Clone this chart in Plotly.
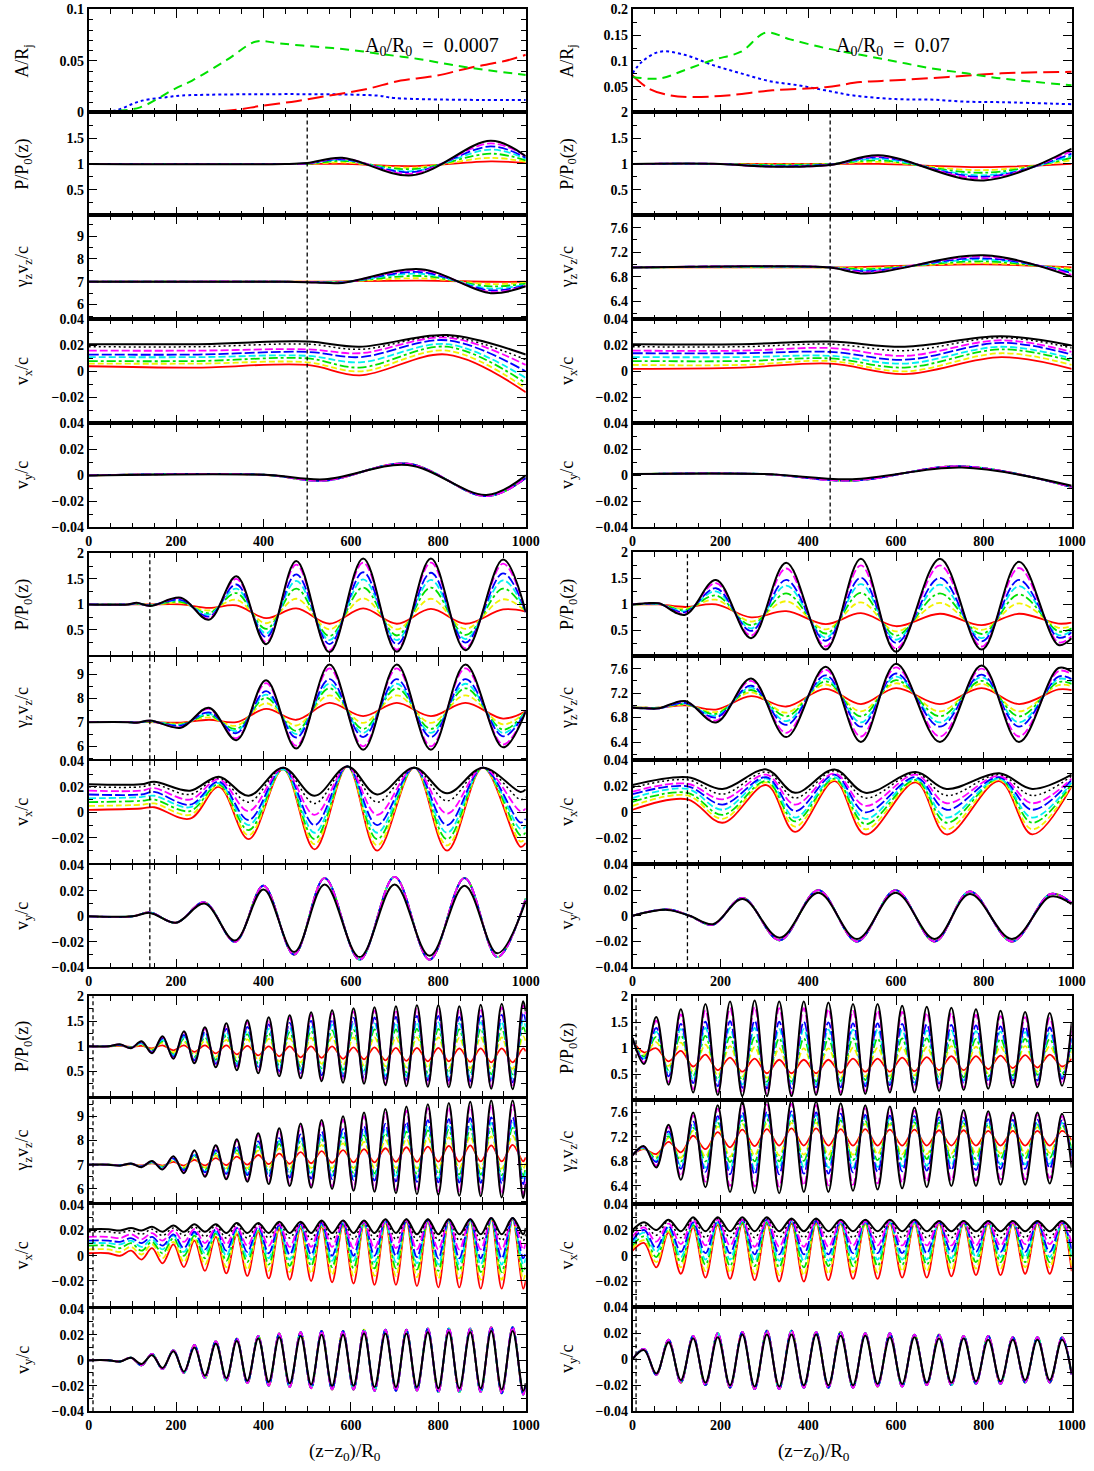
import plotly.graph_objects as go

W, H = 1094, 1471

# ---------------- DATA ----------------
# ---- top row: amplitude panels ----
TL_A_green_x = [0, 62, 118, 197, 237, 316, 384, 436, 515, 595, 674, 754, 833, 913, 1000]
TL_A_green_y = [0, 0.0015, 0.005, 0.023, 0.031, 0.051, 0.069, 0.067, 0.064, 0.061, 0.0565, 0.052, 0.046, 0.041, 0.0365]
TL_A_blue_x = [0, 62, 118, 181, 213, 658, 700, 1000]
TL_A_blue_y = [0, 0.002, 0.011, 0.015, 0.0165, 0.0165, 0.014, 0.012]
TL_A_red_x = [0, 316, 396, 475, 555, 634, 714, 793, 873, 952, 1000]
TL_A_red_y = [0, 0.0016, 0.0065, 0.011, 0.0168, 0.0226, 0.031, 0.0355, 0.0435, 0.05, 0.056]

TR_A_green_x = [0, 62, 118, 183, 247, 303, 359, 439, 519, 599, 679, 760, 840, 920, 1000]
TR_A_green_y = [0.069, 0.066, 0.082, 0.102, 0.118, 0.155, 0.142, 0.125, 0.112, 0.099, 0.086, 0.076, 0.066, 0.059, 0.053]
TR_A_blue_x = [0, 22, 62, 118, 183, 247, 311, 375, 439, 503, 599, 679, 760, 840, 1000]
TR_A_blue_y = [0.076, 0.099, 0.118, 0.112, 0.092, 0.076, 0.061, 0.053, 0.043, 0.033, 0.026, 0.025, 0.021, 0.020, 0.016]
TR_A_red_x = [0, 38, 87, 135, 215, 319, 439, 519, 599, 719, 840, 1000]
TR_A_red_y = [0.072, 0.046, 0.033, 0.030, 0.033, 0.043, 0.049, 0.059, 0.0625, 0.069, 0.076, 0.079]

# ---- top group, left (A0/R0 = 0.0007) ----
TL_P_X = [0, 450, 500, 580, 740, 920, 1000]
TL_P = dict(
    r=[1, 1, 1.0, 1.0, 0.96, 1.05, 1.02],
    y=[1, 1, 1.0, 1.03, 0.93, 1.12, 1.04],
    g=[1, 1, 1.0, 1.06, 0.90, 1.20, 1.07],
    c=[1, 1, 1.01, 1.08, 0.86, 1.28, 1.10],
    b=[1, 1, 1.01, 1.09, 0.84, 1.34, 1.12],
    m=[1, 1, 1.01, 1.11, 0.81, 1.40, 1.15],
    k=[1, 1, 1.02, 1.12, 0.78, 1.45, 1.15],
)
TL_G_X = [0, 450, 520, 580, 760, 920, 1000]
TL_G = dict(
    r=[7, 7, 7, 7.02, 7.05, 7.0, 7.0],
    y=[7, 7, 7, 7.0, 7.15, 6.9, 6.96],
    g=[7, 7, 6.99, 6.99, 7.25, 6.8, 6.92],
    c=[7, 7, 6.98, 6.98, 7.35, 6.7, 6.88],
    b=[7, 7, 6.98, 6.97, 7.42, 6.62, 6.85],
    m=[7, 7, 6.97, 6.96, 7.5, 6.55, 6.82],
    k=[7, 7, 6.97, 6.95, 7.55, 6.5, 6.8],
)
TL_VX_X = [0, 250, 500, 620, 820, 1000]
TL_VX = dict(
    r=[.004, .003, .005, -.003, .013, -.016],
    y=[.006, .006, .007, .000, .016, -.013],
    g=[.008, .008, .010, .003, .019, -.009],
    c=[.011, .011, .012, .007, .021, -.005],
    b=[.013, .013, .015, .011, .024, .000],
    m=[.016, .016, .017, .014, .026, .005],
    d=[.019, .019, .021, .017, .027, .009],
    k=[.021, .021, .023, .019, .028, .013],
)
TL_VY_X = [0, 400, 540, 730, 910, 1000]
TL_VY_k = [0, .0005, -.003, .008, -.015, 0]
TL_VY_col = [0, .0005, -.004, .009, -.016, -.002]

# ---- top group, right (A0/R0 = 0.07) ----
TR_P_X = [0, 200, 300, 450, 560, 800, 1000]
TR_P = dict(
    r=[1, 1, 1.0, 1.0, 1.0, 0.94, 1.0],
    y=[1, 1, 0.99, 1.0, 1.04, 0.88, 1.07],
    g=[1, 1, 0.98, 1.0, 1.07, 0.83, 1.12],
    c=[1, 1, 0.97, 0.99, 1.10, 0.78, 1.16],
    b=[1, 1, 0.96, 0.99, 1.13, 0.75, 1.20],
    m=[1, 1, 0.95, 0.98, 1.15, 0.72, 1.25],
    k=[1, 1, 0.95, 0.98, 1.17, 0.68, 1.30],
)
TR_G_X = [0, 300, 450, 530, 800, 1000]
TR_G = dict(
    r=[6.95, 6.95, 6.95, 6.96, 7.0, 6.95],
    y=[6.95, 6.95, 6.95, 6.94, 7.02, 6.93],
    g=[6.95, 6.96, 6.95, 6.92, 7.05, 6.9],
    c=[6.95, 6.96, 6.95, 6.9, 7.08, 6.88],
    b=[6.95, 6.97, 6.95, 6.89, 7.1, 6.86],
    m=[6.95, 6.97, 6.95, 6.87, 7.13, 6.83],
    k=[6.95, 6.97, 6.95, 6.85, 7.15, 6.8],
)
TR_VX_X = [0, 250, 450, 620, 840, 1000]
TR_VX = dict(
    r=[.002, .003, .006, -.002, .011, .002],
    y=[.005, .005, .008, .000, .014, .005],
    g=[.008, .008, .010, .003, .017, .008],
    c=[.011, .011, .012, .006, .019, .010],
    b=[.014, .014, .015, .009, .022, .013],
    m=[.016, .016, .018, .012, .024, .015],
    d=[.019, .019, .021, .016, .026, .018],
    k=[.021, .021, .023, .019, .027, .020],
)
TR_VY_X = [0, 300, 500, 750, 1000]
TR_VY_k = [.001, .001, -.003, .006, -.008]
TR_VY_col = [.001, .001, -.004, .007, -.009]

# ---- middle group, left ----
ML_X = [0, 90, 110, 141, 211, 275, 338, 406, 475, 551, 628, 705, 783, 862, 948, 1000]
ML_P = dict(
    r=[1, 1, 1.0, 1.0, 1.0, .93, .98, .73, .92, .62, .92, .62, .91, .62, .9, .86],
    y=[1, 1, 1.01, .99, 1.03, .88, 1.09, .63, 1.11, .51, 1.12, .51, 1.11, .52, 1.1, .86],
    g=[1, 1, 1.01, .99, 1.05, .83, 1.22, .52, 1.31, .38, 1.33, .39, 1.33, .4, 1.31, .86],
    c=[1, 1, 1.02, .98, 1.08, .8, 1.31, .43, 1.46, .3, 1.49, .3, 1.48, .32, 1.47, .85],
    b=[1, 1, 1.02, .98, 1.09, .76, 1.39, .36, 1.59, .22, 1.63, .22, 1.62, .25, 1.61, .85],
    m=[1, 1, 1.03, .97, 1.12, .72, 1.5, .26, 1.78, .1, 1.82, .11, 1.82, .14, 1.8, .85],
    k=[1, 1, 1.03, .97, 1.13, .7, 1.55, .22, 1.85, .06, 1.9, .07, 1.9, .1, 1.88, .85],
)
ML_G = dict(
    r=[7, 7, 7.0, 7.0, 6.98, 7.1, 7.0, 7.55, 7.1, 7.8, 7.25, 7.8, 7.25, 7.8, 7.15, 7.45],
    y=[7, 7, 6.99, 7.01, 6.94, 7.2, 6.85, 7.79, 6.86, 8.12, 6.97, 8.12, 6.97, 8.12, 6.91, 7.45],
    g=[7, 7, 6.99, 7.03, 6.9, 7.29, 6.72, 8.01, 6.64, 8.41, 6.72, 8.41, 6.72, 8.41, 6.69, 7.45],
    c=[7, 7, 6.99, 7.04, 6.88, 7.35, 6.63, 8.15, 6.5, 8.6, 6.55, 8.6, 6.55, 8.6, 6.55, 7.45],
    b=[7, 7, 6.99, 7.04, 6.85, 7.41, 6.54, 8.29, 6.36, 8.79, 6.38, 8.79, 6.38, 8.79, 6.41, 7.45],
    m=[7, 7, 6.98, 7.06, 6.79, 7.55, 6.33, 8.63, 6.02, 9.24, 5.99, 9.24, 5.99, 9.24, 6.07, 7.45],
    k=[7, 7, 6.98, 7.07, 6.77, 7.6, 6.25, 8.75, 5.9, 9.4, 5.85, 9.4, 5.85, 9.4, 5.95, 7.45],
)
ML_VX_X = [0, 120, 150, 232, 298, 366, 445, 517, 592, 660, 745, 820, 902, 988, 1000]
ML_VX = dict(
    r=[.002, .003, .004, -.005, .020, -.021, .034, -.029, .036, -.030, .035, -.030, .035, -.027, -.024],
    y=[.005, .006, .007, -.002, .021, -.018, .034, -.025, .036, -.026, .035, -.026, .035, -.023, -.020],
    g=[.008, .009, .010, .001, .022, -.014, .034, -.021, .036, -.021, .035, -.021, .035, -.018, -.016],
    c=[.011, .012, .013, .004, .023, -.010, .034, -.016, .036, -.016, .035, -.016, .035, -.013, -.011],
    b=[.014, .014, .016, .006, .024, -.006, .035, -.010, .036, -.010, .035, -.010, .035, -.008, -.005],
    m=[.017, .017, .019, .010, .026, .001, .035, -.002, .036, -.002, .035, -.001, .035, .001, .003],
    d=[.020, .020, .022, .014, .027, .008, .035, .007, .036, .008, .035, .009, .035, .010, .012],
    k=[.022, .022, .024, .017, .028, .013, .035, .013, .036, .014, .035, .015, .035, .016, .018],
)
ML_VY_X = [0, 100, 140, 200, 265, 335, 400, 470, 540, 620, 700, 780, 860, 935, 1000]
ML_VY_k = [0, 0, .0027, -.005, .010, -.019, .021, -.028, .025, -.032, .025, -.031, .024, -.029, .012]
ML_VY_col = [0, 0, .003, -.005, .011, -.020, .024, -.030, .030, -.034, .031, -.034, .030, -.032, .014]

# ---- middle group, right ----
MR_X = [0, 30, 60, 120, 190, 270, 350, 440, 520, 600, 700, 795, 880, 970, 1000]
MR_P = dict(
    r=[1, 1, 1, .95, 1.0, .75, .87, .62, .83, .58, .82, .6, .82, .63, .65],
    y=[1, 1.0, 1.0, .92, 1.09, .67, 1.06, .52, 1.04, .48, 1.03, .51, 1.02, .55, .59],
    g=[1, 1.01, 1.01, .89, 1.17, .6, 1.21, .44, 1.22, .4, 1.21, .43, 1.19, .48, .54],
    c=[1, 1.01, 1.01, .87, 1.25, .54, 1.36, .36, 1.39, .32, 1.38, .35, 1.35, .41, .49],
    b=[1, 1.01, 1.01, .85, 1.31, .49, 1.47, .3, 1.51, .26, 1.51, .29, 1.47, .36, .46],
    m=[1, 1.02, 1.02, .82, 1.41, .4, 1.69, .19, 1.75, .15, 1.75, .19, 1.7, .27, .39],
    k=[1, 1.02, 1.02, .8, 1.47, .35, 1.8, .13, 1.88, .09, 1.88, .13, 1.82, .22, .35],
)
MR_G = dict(
    r=[6.96, 6.96, 6.96, 7.0, 6.93, 7.15, 6.98, 7.27, 7.02, 7.28, 7.02, 7.28, 7.02, 7.26, 7.25],
    y=[6.96, 6.96, 6.96, 7.01, 6.89, 7.21, 6.88, 7.34, 6.9, 7.36, 6.9, 7.35, 6.9, 7.33, 7.31],
    g=[6.96, 6.96, 6.96, 7.02, 6.86, 7.25, 6.82, 7.39, 6.82, 7.41, 6.82, 7.4, 6.82, 7.38, 7.35],
    c=[6.96, 6.95, 6.95, 7.03, 6.83, 7.29, 6.74, 7.44, 6.72, 7.47, 6.72, 7.46, 6.72, 7.43, 7.39],
    b=[6.96, 6.95, 6.95, 7.04, 6.8, 7.32, 6.68, 7.49, 6.65, 7.52, 6.65, 7.5, 6.65, 7.47, 7.43],
    m=[6.96, 6.95, 6.95, 7.06, 6.75, 7.4, 6.55, 7.58, 6.49, 7.62, 6.49, 7.6, 6.49, 7.56, 7.51],
    k=[6.96, 6.95, 6.95, 7.07, 6.72, 7.44, 6.48, 7.63, 6.4, 7.68, 6.4, 7.65, 6.4, 7.61, 7.55],
)
MR_VX_X = [0, 125, 205, 305, 370, 460, 530, 645, 715, 835, 910, 1000]
MR_VX = dict(
    r=[.002, .010, -.008, .021, -.015, .024, -.017, .023, -.017, .024, -.017, .020],
    y=[.005, .013, -.005, .023, -.011, .025, -.013, .024, -.013, .025, -.013, .021],
    g=[.008, .015, -.002, .024, -.007, .026, -.009, .025, -.008, .026, -.008, .022],
    c=[.011, .018, .002, .026, -.004, .027, -.005, .026, -.004, .026, -.004, .023],
    b=[.014, .020, .006, .027, .001, .029, .000, .027, .002, .027, .002, .025],
    m=[.016, .022, .010, .029, .006, .030, .005, .029, .007, .028, .007, .026],
    d=[.019, .025, .014, .031, .011, .032, .011, .030, .013, .029, .013, .028],
    k=[.021, .027, .018, .033, .015, .033, .015, .031, .018, .030, .018, .029],
)
MR_VY_X = [0, 79, 130, 183, 251, 335, 423, 511, 599, 688, 768, 864, 952, 1000]
MR_VY_k = [0, .0046, 0, -.0065, .013, -.017, .018, -.018, .018, -.018, .017, -.018, .015, .009]
MR_VY_col = [0, .005, 0, -.007, .014, -.019, .020, -.020, .020, -.020, .019, -.020, .017, .010]

# ---- bottom group, left ----
BL_X = [0, 45, 72, 97, 121, 145, 169, 194, 218, 242, 266, 291, 315, 339, 363, 388, 412, 436, 460, 485, 509,
        533, 557, 582, 606, 630, 654, 679, 703, 727, 751, 776, 800, 824, 848, 873, 897, 921, 945, 970, 994, 1000]
BL_P = dict(
    r=[1, 1, 1.01, .99, 1.01, .96, 1.02, .92, 1.02, .89, 1.02, .86, 1.02, .84, 1.01, .82, 1.0, .80, 1.0, .78, 1.0,
       .77, 1.0, .75, .98, .74, .98, .72, .97, .71, .97, .70, .97, .70, .96, .69, .96, .68, .96, .68, .96, .9],
    y=[1, 1, 1.02, .98, 1.03, .94, 1.07, .88, 1.09, .83, 1.11, .79, 1.13, .76, 1.14, .73, 1.15, .70, 1.16, .68, 1.17,
       .65, 1.18, .63, 1.18, .62, 1.18, .60, 1.18, .58, 1.18, .57, 1.18, .57, 1.17, .56, 1.18, .55, 1.18, .55, 1.2, 1.1],
    g=[1, 1, 1.02, .98, 1.05, .92, 1.10, .84, 1.15, .79, 1.18, .73, 1.22, .70, 1.24, .66, 1.26, .62, 1.28, .59, 1.31,
       .56, 1.32, .53, 1.33, .52, 1.34, .50, 1.34, .48, 1.35, .47, 1.35, .47, 1.34, .46, 1.35, .44, 1.36, .44, 1.38, 1.26],
    c=[1, 1, 1.03, .97, 1.06, .90, 1.13, .82, 1.19, .75, 1.24, .69, 1.28, .65, 1.32, .60, 1.35, .56, 1.37, .53, 1.41,
       .49, 1.43, .46, 1.45, .45, 1.46, .42, 1.47, .40, 1.48, .39, 1.48, .39, 1.46, .38, 1.48, .36, 1.49, .36, 1.52, 1.38],
    b=[1, 1, 1.03, .97, 1.08, .89, 1.16, .79, 1.23, .72, 1.29, .65, 1.35, .60, 1.39, .55, 1.44, .50, 1.47, .47, 1.51,
       .42, 1.54, .39, 1.57, .37, 1.58, .35, 1.59, .33, 1.61, .32, 1.61, .31, 1.59, .30, 1.61, .28, 1.63, .28, 1.67, 1.5],
    m=[1, 1, 1.04, .96, 1.09, .87, 1.19, .76, 1.28, .68, 1.35, .60, 1.42, .55, 1.48, .49, 1.53, .43, 1.57, .39, 1.63,
       .34, 1.66, .31, 1.70, .29, 1.72, .26, 1.73, .24, 1.75, .23, 1.75, .22, 1.73, .21, 1.76, .19, 1.78, .18, 1.82, 1.64],
    k=[1, 1, 1.04, .96, 1.1, .86, 1.2, .75, 1.3, .66, 1.38, .58, 1.46, .52, 1.52, .46, 1.58, .40, 1.62, .36, 1.68,
       .30, 1.72, .27, 1.76, .25, 1.78, .22, 1.8, .20, 1.82, .19, 1.82, .18, 1.8, .17, 1.83, .15, 1.85, .14, 1.9, 1.7],
)
BL_G = dict(
    r=[7, 7, 6.99, 7.02, 6.97, 7.06, 6.96, 7.12, 6.96, 7.2, 6.97, 7.27, 6.98, 7.33, 7.0, 7.4, 7.02, 7.46, 7.04, 7.52, 7.06,
       7.56, 7.08, 7.6, 7.1, 7.64, 7.1, 7.68, 7.12, 7.72, 7.12, 7.75, 7.13, 7.78, 7.13, 7.8, 7.14, 7.8, 7.14, 7.82, 7.14, 7.3],
    y=[7, 7, 6.98, 7.03, 6.96, 7.08, 6.93, 7.17, 6.9, 7.28, 6.88, 7.38, 6.86, 7.47, 6.86, 7.58, 6.86, 7.67, 6.86, 7.76, 6.86,
       7.82, 6.86, 7.88, 6.86, 7.94, 6.86, 8.0, 6.86, 8.06, 6.85, 8.1, 6.85, 8.13, 6.85, 8.16, 6.85, 8.17, 6.84, 8.19, 6.84, 7.08],
    g=[7, 7, 6.98, 7.03, 6.94, 7.09, 6.9, 7.21, 6.84, 7.35, 6.79, 7.47, 6.76, 7.6, 6.73, 7.74, 6.71, 7.86, 6.69, 7.97, 6.68,
       8.05, 6.67, 8.13, 6.65, 8.21, 6.64, 8.3, 6.63, 8.36, 6.61, 8.42, 6.61, 8.45, 6.6, 8.48, 6.59, 8.5, 6.57, 8.52, 6.56, 6.88],
    c=[7, 7, 6.97, 7.04, 6.93, 7.1, 6.88, 7.23, 6.8, 7.4, 6.73, 7.53, 6.69, 7.69, 6.65, 7.85, 6.61, 7.98, 6.58, 8.11, 6.56,
       8.2, 6.54, 8.3, 6.51, 8.4, 6.49, 8.49, 6.47, 8.56, 6.45, 8.63, 6.44, 8.67, 6.43, 8.7, 6.42, 8.73, 6.4, 8.74, 6.38, 6.75],
    b=[7, 7, 6.97, 7.04, 6.93, 7.12, 6.86, 7.26, 6.77, 7.45, 6.68, 7.6, 6.62, 7.78, 6.57, 7.96, 6.51, 8.1, 6.47, 8.25, 6.43,
       8.36, 6.41, 8.47, 6.37, 8.58, 6.34, 8.68, 6.31, 8.76, 6.29, 8.84, 6.27, 8.88, 6.26, 8.92, 6.25, 8.95, 6.22, 8.95, 6.2, 6.62],
    m=[7, 7, 6.96, 7.05, 6.91, 7.14, 6.82, 7.33, 6.68, 7.56, 6.55, 7.75, 6.46, 7.98, 6.37, 8.21, 6.28, 8.4, 6.21, 8.58, 6.15,
       8.72, 6.11, 8.86, 6.04, 9.0, 6.0, 9.14, 5.95, 9.23, 5.91, 9.33, 5.89, 9.37, 5.86, 9.42, 5.84, 9.47, 5.8, 9.47, 5.77, 6.3],
    k=[7, 7, 6.96, 7.05, 6.9, 7.15, 6.8, 7.35, 6.65, 7.6, 6.5, 7.8, 6.4, 8.05, 6.3, 8.3, 6.2, 8.5, 6.12, 8.7, 6.05,
       8.85, 6.0, 9.0, 5.92, 9.15, 5.88, 9.3, 5.82, 9.4, 5.78, 9.5, 5.75, 9.55, 5.72, 9.6, 5.7, 9.65, 5.65, 9.65, 5.62, 6.2],
)
BL_VX = dict(
    r=[.002, .002, .000, .004, -.003, .006, -.006, .009, -.009, .012, -.012, .015, -.014, .017, -.016, .019, -.018, .021, -.019, .022, -.020,
       .023, -.021, .024, -.022, .025, -.023, .026, -.023, .027, -.024, .027, -.025, .028, -.025, .028, -.026, .029, -.026, .029, -.026, -.020],
    y=[.005, .005, .003, .007, .001, .009, -.002, .011, -.005, .014, -.007, .017, -.009, .018, -.011, .020, -.012, .022, -.013, .023, -.014,
       .024, -.015, .025, -.016, .025, -.016, .026, -.016, .027, -.017, .027, -.018, .028, -.018, .028, -.019, .029, -.019, .029, -.019, -.013],
    g=[.008, .008, .006, .010, .004, .011, .002, .014, .000, .016, -.002, .018, -.004, .020, -.005, .021, -.007, .023, -.008, .024, -.008,
       .025, -.009, .025, -.010, .026, -.010, .027, -.010, .028, -.011, .028, -.012, .028, -.012, .028, -.013, .029, -.013, .029, -.013, -.007],
    c=[.010, .010, .009, .012, .007, .013, .005, .016, .003, .018, .002, .019, .000, .021, -.001, .022, -.002, .024, -.003, .024, -.003,
       .025, -.004, .026, -.004, .026, -.005, .027, -.005, .028, -.006, .028, -.007, .028, -.007, .028, -.007, .029, -.007, .029, -.007, -.002],
    b=[.012, .012, .011, .014, .010, .015, .008, .017, .006, .019, .005, .021, .004, .022, .003, .023, .002, .024, .001, .025, .001,
       .026, .000, .026, .000, .027, .000, .028, .000, .028, -.001, .028, -.002, .029, -.002, .029, -.002, .030, -.002, .030, -.002, .003],
    m=[.015, .015, .014, .017, .013, .018, .012, .020, .011, .021, .010, .022, .009, .023, .008, .024, .008, .025, .007, .026, .007,
       .027, .007, .027, .006, .027, .006, .028, .006, .028, .005, .028, .005, .029, .005, .029, .005, .030, .005, .030, .005, .010],
    d=[.019, .019, .018, .020, .017, .021, .016, .022, .016, .023, .015, .024, .014, .025, .014, .025, .014, .026, .014, .026, .013,
       .027, .013, .028, .013, .028, .013, .029, .013, .029, .012, .029, .012, .029, .012, .029, .012, .030, .012, .030, .012, .017],
    k=[.021, .021, .020, .022, .020, .023, .019, .024, .019, .025, .019, .025, .018, .026, .018, .026, .018, .027, .018, .027, .018,
       .028, .018, .028, .018, .028, .018, .029, .018, .029, .017, .029, .017, .029, .017, .029, .017, .030, .017, .030, .017, .022],
)
BL_VY_k = [0, 0, -.001, .002, -.003, .004, -.006, .007, -.009, .010, -.012, .013, -.014, .015, -.016, .017, -.017, .018, -.018, .019, -.019,
           .020, -.020, .020, -.020, .021, -.021, .021, -.021, .021, -.021, .022, -.022, .022, -.022, .022, -.022, .023, -.023, .023, -.024, -.018]
BL_VY_col = [0, 0, -.001, .002, -.004, .005, -.007, .008, -.010, .012, -.014, .015, -.016, .017, -.018, .019, -.020, .021, -.021, .022, -.022,
             .023, -.023, .023, -.023, .024, -.024, .024, -.024, .024, -.024, .025, -.025, .025, -.025, .025, -.025, .026, -.026, .026, -.027, -.020]

# ---- bottom group, right ----
BR_X = [0, 26, 54, 82, 110, 138, 166, 194, 222, 250, 278, 306, 334, 362, 390, 418, 446, 474, 502,
        530, 558, 586, 614, 642, 670, 698, 726, 754, 782, 810, 838, 866, 894, 922, 950, 978, 1000]
BR_P = dict(
    r=[1.15, .92, 1.0, .75, .95, .65, .88, .58, .82, .55, .8, .52, .78, .52, .78, .52, .78, .53, .8,
       .55, .8, .55, .82, .56, .83, .58, .85, .58, .85, .6, .86, .62, .87, .63, .88, .65, .8],
    y=[1.16, .88, 1.12, .66, 1.11, .55, 1.07, .48, 1.04, .46, 1.02, .43, 1.0, .43, 1.0, .44, 1.0, .44, 1.01,
       .46, 1.01, .47, 1.02, .48, 1.02, .5, 1.04, .5, 1.03, .52, 1.03, .55, 1.04, .55, 1.04, .58, .94],
    g=[1.17, .84, 1.22, .58, 1.25, .47, 1.24, .4, 1.22, .38, 1.21, .36, 1.19, .36, 1.19, .36, 1.19, .37, 1.19,
       .39, 1.19, .4, 1.19, .41, 1.19, .43, 1.19, .44, 1.18, .46, 1.18, .48, 1.18, .49, 1.18, .51, 1.06],
    c=[1.18, .8, 1.32, .51, 1.37, .39, 1.39, .33, 1.39, .3, 1.39, .29, 1.37, .29, 1.37, .3, 1.36, .3, 1.36,
       .32, 1.36, .34, 1.35, .34, 1.34, .37, 1.34, .38, 1.33, .4, 1.32, .42, 1.31, .43, 1.3, .45, 1.17],
    b=[1.18, .78, 1.39, .46, 1.47, .33, 1.51, .27, 1.52, .24, 1.53, .23, 1.51, .23, 1.51, .25, 1.5, .25, 1.48,
       .27, 1.48, .29, 1.47, .29, 1.46, .32, 1.45, .33, 1.44, .35, 1.42, .38, 1.41, .38, 1.4, .41, 1.26],
    m=[1.19, .73, 1.53, .35, 1.65, .21, 1.73, .16, 1.77, .14, 1.79, .13, 1.77, .13, 1.77, .15, 1.75, .15, 1.72,
       .17, 1.72, .2, 1.7, .2, 1.68, .23, 1.67, .25, 1.64, .27, 1.62, .29, 1.6, .3, 1.58, .32, 1.42],
    k=[1.2, .7, 1.6, .3, 1.75, .15, 1.85, .1, 1.9, .08, 1.92, .08, 1.9, .08, 1.9, .1, 1.88, .1, 1.85,
       .12, 1.85, .15, 1.82, .15, 1.8, .18, 1.78, .2, 1.75, .22, 1.72, .25, 1.7, .25, 1.68, .28, 1.5],
)
BR_G = dict(
    r=[6.92, 7.0, 6.92, 7.12, 6.95, 7.22, 7.0, 7.28, 7.03, 7.32, 7.05, 7.33, 7.06, 7.34, 7.06, 7.34, 7.06, 7.33, 7.06,
       7.33, 7.06, 7.32, 7.06, 7.32, 7.06, 7.31, 7.06, 7.31, 7.06, 7.3, 7.06, 7.3, 7.06, 7.3, 7.06, 7.3, 7.15],
    y=[6.92, 7.01, 6.88, 7.18, 6.86, 7.3, 6.88, 7.37, 6.88, 7.41, 6.9, 7.42, 6.9, 7.43, 6.91, 7.43, 6.91, 7.41, 6.91,
       7.41, 6.92, 7.4, 6.92, 7.39, 6.92, 7.38, 6.93, 7.38, 6.93, 7.36, 6.93, 7.36, 6.93, 7.36, 6.94, 7.36, 7.06],
    g=[6.91, 7.02, 6.85, 7.21, 6.8, 7.35, 6.8, 7.43, 6.79, 7.47, 6.8, 7.49, 6.8, 7.49, 6.81, 7.49, 6.81, 7.47, 6.82,
       7.46, 6.82, 7.45, 6.83, 7.44, 6.84, 7.43, 6.84, 7.42, 6.84, 7.41, 6.85, 7.4, 6.85, 7.4, 6.86, 7.39, 7.0],
    c=[6.91, 7.02, 6.81, 7.25, 6.73, 7.4, 6.7, 7.49, 6.68, 7.54, 6.68, 7.56, 6.69, 7.56, 6.7, 7.55, 6.7, 7.53, 6.7,
       7.52, 6.71, 7.5, 6.72, 7.49, 6.73, 7.48, 6.74, 7.47, 6.74, 7.45, 6.75, 7.44, 6.75, 7.44, 6.76, 7.43, 6.93],
    b=[6.91, 7.03, 6.79, 7.29, 6.68, 7.45, 6.63, 7.54, 6.59, 7.6, 6.59, 7.61, 6.59, 7.62, 6.6, 7.6, 6.6, 7.58, 6.62,
       7.56, 6.63, 7.55, 6.64, 7.54, 6.65, 7.52, 6.66, 7.51, 6.66, 7.49, 6.68, 7.48, 6.68, 7.48, 6.69, 7.47, 6.88],
    m=[6.9, 7.04, 6.73, 7.36, 6.56, 7.55, 6.47, 7.66, 6.4, 7.72, 6.39, 7.73, 6.39, 7.74, 6.41, 7.72, 6.41, 7.69, 6.42,
       7.67, 6.44, 7.65, 6.46, 7.63, 6.48, 7.61, 6.49, 7.59, 6.49, 7.58, 6.51, 7.56, 6.51, 7.56, 6.53, 7.54, 6.76],
    k=[6.9, 7.05, 6.7, 7.4, 6.5, 7.6, 6.38, 7.72, 6.3, 7.78, 6.28, 7.8, 6.28, 7.8, 6.3, 7.78, 6.3, 7.75, 6.32,
       7.72, 6.34, 7.7, 6.36, 7.68, 6.38, 7.66, 6.4, 7.64, 6.4, 7.62, 6.42, 7.6, 6.42, 7.6, 6.44, 7.58, 6.7],
)
BR_VX = dict(
    r=[.004, .010, -.009, .018, -.014, .022, -.017, .024, -.018, .025, -.019, .025, -.020, .025, -.020, .025, -.019, .025, -.018,
       .025, -.018, .025, -.017, .025, -.017, .025, -.016, .025, -.015, .025, -.015, .025, -.014, .025, -.014, .025, -.012],
    y=[.006, .012, -.005, .019, -.009, .023, -.012, .025, -.013, .026, -.014, .026, -.015, .026, -.015, .026, -.014, .025, -.013,
       .025, -.013, .025, -.012, .025, -.012, .025, -.011, .025, -.010, .025, -.010, .025, -.009, .025, -.009, .025, -.008],
    g=[.008, .015, -.001, .021, -.005, .024, -.007, .026, -.008, .026, -.008, .026, -.009, .026, -.009, .026, -.008, .026, -.008,
       .026, -.008, .026, -.007, .026, -.007, .026, -.006, .026, -.005, .026, -.005, .026, -.005, .026, -.005, .026, -.003],
    c=[.010, .018, .003, .022, -.001, .025, -.003, .026, -.003, .027, -.004, .027, -.004, .027, -.004, .027, -.004, .026, -.003,
       .026, -.003, .026, -.003, .026, -.003, .026, -.002, .026, -.001, .026, -.001, .026, -.001, .026, -.001, .026, .001],
    b=[.012, .020, .006, .023, .003, .026, .002, .027, .002, .028, .001, .028, .001, .027, .001, .027, .001, .027, .002,
       .027, .002, .027, .002, .027, .002, .026, .003, .026, .003, .026, .003, .026, .003, .026, .003, .026, .005],
    m=[.015, .022, .011, .025, .009, .028, .008, .028, .008, .028, .007, .028, .007, .028, .007, .028, .007, .027, .008,
       .027, .008, .027, .008, .027, .008, .026, .008, .026, .008, .026, .008, .026, .009, .026, .009, .026, .010],
    d=[.018, .024, .016, .027, .014, .029, .014, .029, .014, .029, .014, .029, .014, .028, .014, .028, .014, .028, .014,
       .028, .014, .028, .014, .028, .014, .027, .014, .027, .014, .027, .014, .027, .014, .027, .014, .027, .016],
    k=[.020, .026, .020, .028, .019, .030, .019, .030, .019, .030, .019, .030, .019, .029, .019, .029, .019, .028, .019,
       .028, .019, .028, .019, .028, .019, .027, .019, .027, .019, .027, .019, .027, .019, .027, .019, .027, .020],
)
BR_VY_k = [0, .007, -.011, .013, -.016, .016, -.018, .017, -.020, .019, -.021, .019, -.021, .019, -.020, .019, -.020, .018, -.020,
           .018, -.019, .017, -.019, .017, -.018, .016, -.018, .016, -.017, .015, -.017, .015, -.016, .015, -.016, .015, -.011]
BR_VY_col = [0, .008, -.012, .015, -.018, .018, -.020, .020, -.022, .021, -.023, .022, -.023, .022, -.022, .021, -.022, .021, -.022,
             .020, -.021, .020, -.021, .019, -.020, .019, -.020, .018, -.019, .018, -.019, .017, -.018, .017, -.018, .017, -.012]

# tick labels
X_TICKS = [0, 200, 400, 600, 800, 1000]
X_TICKTEXT = ["0", "200", "400", "600", "800", "1000"]

# ---------------- STYLE ----------------
FONT = "Liberation Serif"
STY = {
    'r': dict(color='#ff0000', dash='solid', width=1.8),
    'y': dict(color='#f2f200', dash='6px,3px', width=1.8),
    'g': dict(color='#00e000', dash='dashdot', width=1.8),
    'c': dict(color='#00f0f0', dash='7px,3px', width=1.8),
    'b': dict(color='#0000ff', dash='10px,3px', width=1.8),
    'm': dict(color='#ff00ff', dash='8px,3px', width=1.8),
    'd': dict(color='#000000', dash='2px,3px', width=1.5),
    'k': dict(color='#000000', dash='solid', width=2.0),
    'Ag': dict(color='#00e000', dash='9px,6px', width=2.0),
    'Ab': dict(color='#0000ff', dash='3px,3px', width=2.0),
    'Ar': dict(color='#ff0000', dash='16px,6px', width=2.0),
}
ORDER7 = ['r', 'y', 'g', 'c', 'b', 'm', 'k']
ORDER8 = ['r', 'y', 'g', 'c', 'b', 'm', 'd', 'k']

# The page is photographed slightly shrunk and offset (measured from a test frame);
# positions below are given in reference-image pixels and converted here.
SX, OX = 0.9855, 3.2
SY, OY = 0.990, 7.5


def PX(x):
    return (x - OX) / (SX * W)


def PY(y):
    return 1 - (y - OY) / (SY * H)


def rainbow(xs, d, order):
    return [(key, xs, d[key]) for key in order]


def vy_series(xs, col, blk):
    return [(key, xs, col) for key in ['r', 'y', 'g', 'c', 'b', 'm']] + [('k', xs, blk)]


LCOL = (88, 526)
RCOL = (633, 1073)

LAB_A = "A/R<sub>j</sub>"
LAB_P = "P/P<sub>0</sub>(z)"
LAB_G = "γ<sub>z</sub>v<sub>z</sub>/c"
LAB_VX = "v<sub>x</sub>/c"
LAB_VY = "v<sub>y</sub>/c"

V_T = [-0.04, -0.02, 0, 0.02, 0.04]
V_TT = ["\u22120.04", "\u22120.02", "0", "0.02", "0.04"]
P_T = [0.5, 1, 1.5, 2]
P_TT = ["0.5", "1", "1.5", "2"]

panels = []


def panel(col, top, bot, yr, tv, tt, minor, label, series, xlab=False, vline=None):
    panels.append(dict(col=col, top=top, bot=bot, yr=yr, tv=tv, tt=tt, minor=minor,
                       label=label, series=series, xlab=xlab, vline=vline))


GL_R = [5.45, 9.7]
GL_TOP_R = [5.35, 9.9]
GR_R = [6.1, 7.8]

# ---- top group ----
panel(LCOL, 10, 113, [0, 0.1], [0, 0.05, 0.1], ["0", "0.05", "0.1"], 0.01, LAB_A,
      [('Ab', TL_A_blue_x, TL_A_blue_y), ('Ar', TL_A_red_x, TL_A_red_y), ('Ag', TL_A_green_x, TL_A_green_y)])
panel(LCOL, 113, 216, [0, 2], P_T[:3], P_TT[:3], 0.25, LAB_P, rainbow(TL_P_X, TL_P, ORDER7), vline=500)
panel(LCOL, 216, 320, GL_TOP_R, [6, 7, 8, 9], ["6", "7", "8", "9"], 0.5, LAB_G, rainbow(TL_G_X, TL_G, ORDER7), vline=500)
panel(LCOL, 320, 424, [-0.04, 0.04], V_T[1:], V_TT[1:], 0.01, LAB_VX, rainbow(TL_VX_X, TL_VX, ORDER8), vline=500)
panel(LCOL, 424, 528, [-0.04, 0.04], V_T, V_TT, 0.01, LAB_VY, vy_series(TL_VY_X, TL_VY_col, TL_VY_k), xlab=True, vline=500)

panel(RCOL, 10, 113, [0, 0.2], [0.05, 0.1, 0.15, 0.2], ["0.05", "0.1", "0.15", "0.2"], 0.025, LAB_A,
      [('Ab', TR_A_blue_x, TR_A_blue_y), ('Ar', TR_A_red_x, TR_A_red_y), ('Ag', TR_A_green_x, TR_A_green_y)])
panel(RCOL, 113, 216, [0, 2], P_T, P_TT, 0.25, LAB_P, rainbow(TR_P_X, TR_P, ORDER7), vline=450)
panel(RCOL, 216, 320, GR_R, [6.4, 6.8, 7.2, 7.6], ["6.4", "6.8", "7.2", "7.6"], 0.2, LAB_G, rainbow(TR_G_X, TR_G, ORDER7), vline=450)
panel(RCOL, 320, 424, [-0.04, 0.04], V_T[1:], V_TT[1:], 0.01, LAB_VX, rainbow(TR_VX_X, TR_VX, ORDER8), vline=450)
panel(RCOL, 424, 528, [-0.04, 0.04], V_T, V_TT, 0.01, LAB_VY, vy_series(TR_VY_X, TR_VY_col, TR_VY_k), xlab=True, vline=450)

# ---- middle group ----
panel(LCOL, 554, 656, [0, 2], P_T, P_TT, 0.25, LAB_P, rainbow(ML_X, ML_P, ORDER7), vline=140)
panel(LCOL, 658, 760, GL_R, [6, 7, 8, 9], ["6", "7", "8", "9"], 0.5, LAB_G, rainbow(ML_X, ML_G, ORDER7), vline=140)
panel(LCOL, 762, 864, [-0.04, 0.04], V_T[1:], V_TT[1:], 0.01, LAB_VX, rainbow(ML_VX_X, ML_VX, ORDER8), vline=140)
panel(LCOL, 866, 968, [-0.04, 0.04], V_T, V_TT, 0.01, LAB_VY, vy_series(ML_VY_X, ML_VY_col, ML_VY_k), xlab=True, vline=140)

panel(RCOL, 553, 657, [0, 2], P_T, P_TT, 0.25, LAB_P, rainbow(MR_X, MR_P, ORDER7), vline=125)
panel(RCOL, 657, 761, GR_R, [6.4, 6.8, 7.2, 7.6], ["6.4", "6.8", "7.2", "7.6"], 0.2, LAB_G, rainbow(MR_X, MR_G, ORDER7), vline=125)
panel(RCOL, 761, 865, [-0.04, 0.04], V_T[1:], V_TT[1:], 0.01, LAB_VX, rainbow(MR_VX_X, MR_VX, ORDER8), vline=125)
panel(RCOL, 865, 968, [-0.04, 0.04], V_T, V_TT, 0.01, LAB_VY, vy_series(MR_VY_X, MR_VY_col, MR_VY_k), xlab=True, vline=125)

# ---- bottom group ----
panel(LCOL, 997, 1097, [0, 2], P_T, P_TT, 0.25, LAB_P, rainbow(BL_X, BL_P, ORDER7), vline=10)
panel(LCOL, 1100, 1203, GL_R, [6, 7, 8, 9], ["6", "7", "8", "9"], 0.5, LAB_G, rainbow(BL_X, BL_G, ORDER7), vline=10)
panel(LCOL, 1206, 1307, [-0.04, 0.04], V_T[1:], V_TT[1:], 0.01, LAB_VX, rainbow(BL_X, BL_VX, ORDER8), vline=10)
panel(LCOL, 1310, 1412, [-0.04, 0.04], V_T, V_TT, 0.01, LAB_VY, vy_series(BL_X, BL_VY_col, BL_VY_k), xlab=True, vline=10)

panel(RCOL, 997, 1101, [0, 2], P_T, P_TT, 0.25, LAB_P, rainbow(BR_X, BR_P, ORDER7), vline=8)
panel(RCOL, 1101, 1205, GR_R, [6.4, 6.8, 7.2, 7.6], ["6.4", "6.8", "7.2", "7.6"], 0.2, LAB_G, rainbow(BR_X, BR_G, ORDER7), vline=8)
panel(RCOL, 1205, 1308, [-0.04, 0.04], V_T[1:], V_TT[1:], 0.01, LAB_VX, rainbow(BR_X, BR_VX, ORDER8), vline=8)
panel(RCOL, 1308, 1412, [-0.04, 0.04], V_T, V_TT, 0.01, LAB_VY, vy_series(BR_X, BR_VY_col, BR_VY_k), xlab=True, vline=8)

# ---------------- BUILD ----------------
fig = go.Figure()
layout = dict(width=W, height=H, margin=dict(l=0, r=0, t=0, b=0),
              paper_bgcolor='white', plot_bgcolor='white', showlegend=False,
              font=dict(family=FONT, color='black'))
shapes, annotations = [], []
problems = []
TICKFONT = dict(family=FONT, size=14, color='black', weight='bold')

for i, p in enumerate(panels, start=1):
    xs = '' if i == 1 else str(i)
    xname, yname = 'x' + xs, 'y' + xs
    x0, x1 = p['col']
    layout['xaxis' + xs] = dict(
        domain=[PX(x0), PX(x1)], range=[0, 1000], anchor=yname,
        tickmode='array', tickvals=X_TICKS, ticktext=X_TICKTEXT, showticklabels=p['xlab'],
        ticks='inside', ticklen=9, tickwidth=1.3, tickcolor='black',
        minor=dict(tickmode='linear', tick0=0, dtick=50, ticks='inside', ticklen=5, tickwidth=1.1, tickcolor='black', showgrid=False),
        mirror='allticks', showline=True, linewidth=1.6, linecolor='black',
        showgrid=False, zeroline=False, tickfont=TICKFONT)
    layout['yaxis' + xs] = dict(
        domain=[PY(p['bot']), PY(p['top'])], range=p['yr'], anchor=xname,
        tickmode='array', tickvals=p['tv'], ticktext=p['tt'],
        ticks='inside', ticklen=9, tickwidth=1.3, tickcolor='black',
        minor=dict(tickmode='linear', tick0=0, dtick=p['minor'], ticks='inside', ticklen=5, tickwidth=1.1, tickcolor='black', showgrid=False),
        mirror='allticks', showline=True, linewidth=1.6, linecolor='black',
        showgrid=False, zeroline=False, tickfont=TICKFONT)
    for key, sx, sy in p['series']:
        if len(sx) != len(sy):
            problems.append(f"panel {i} {key}: {len(sx)} vs {len(sy)}")
        st = STY[key]
        fig.add_trace(go.Scatter(
            x=sx, y=sy, mode='lines', xaxis=xname, yaxis=yname, hoverinfo='skip',
            line=dict(color=st['color'], dash=st['dash'], width=st['width'], shape='spline', smoothing=1.0)))
    if p['vline'] is not None:
        shapes.append(dict(type='line', xref=xname, yref=yname + ' domain', x0=p['vline'], x1=p['vline'],
                           y0=0, y1=1, line=dict(color='black', width=1.3, dash='4px,3px')))
    # y-axis title
    lab_x = 23 if x0 < 300 else 569
    annotations.append(dict(text=p['label'], x=PX(lab_x), y=PY((p['top'] + p['bot']) / 2),
                            xref='paper', yref='paper', showarrow=False, textangle=-90,
                            font=dict(family=FONT, size=18, color='black'), xanchor='center', yanchor='middle'))

annotations.append(dict(text="A<sub>0</sub>/R<sub>0</sub>  =  0.0007", x=PX(432), y=PY(33), xref='paper', yref='paper',
                        showarrow=False, font=dict(family=FONT, size=20, color='black')))
annotations.append(dict(text="A<sub>0</sub>/R<sub>0</sub>  =  0.07", x=PX(953), y=PY(33), xref='paper', yref='paper',
                        showarrow=False, font=dict(family=FONT, size=20, color='black')))
for cx in (307, 853):
    annotations.append(dict(text="(z\u2212z<sub>0</sub>)/R<sub>0</sub>", x=PX(cx), y=PY(1439), xref='paper', yref='paper',
                            yanchor='top', showarrow=False, font=dict(family=FONT, size=19, color='black')))
if problems:
    annotations.append(dict(text="<br>".join(problems), x=0.5, y=0.5, xref='paper', yref='paper', showarrow=False,
                            font=dict(size=14, color='red'), bgcolor='white'))

layout['shapes'] = shapes
layout['annotations'] = annotations
fig.update_layout(**layout)
PAGE_FIX = ("var s=document.createElement('style');"
            "s.innerHTML='html,body{margin:0;padding:0;overflow:hidden;}';"
            "document.head.appendChild(s);")
fig.write_html("out.html", config={'displayModeBar': False}, post_script=PAGE_FIX)
